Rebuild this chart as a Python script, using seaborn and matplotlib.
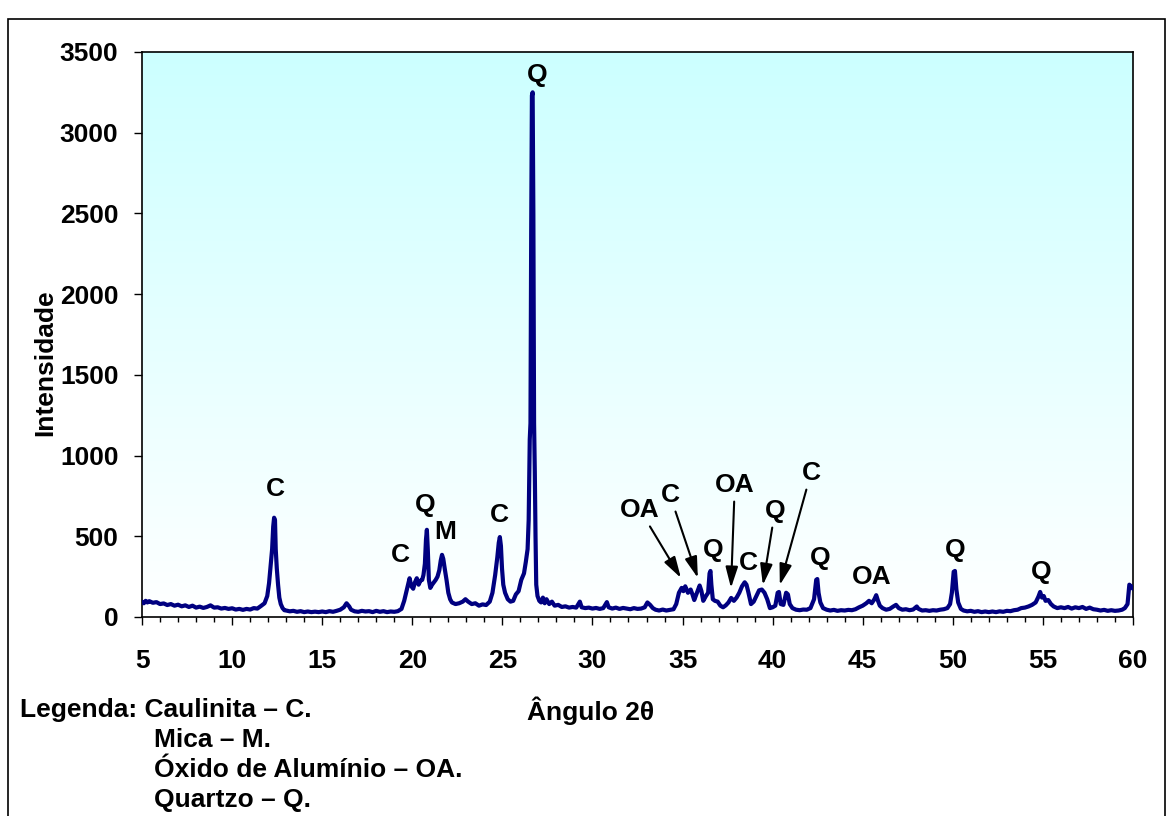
import matplotlib
matplotlib.use('Agg')
import matplotlib.pyplot as plt
import numpy as np
import seaborn as sns
from matplotlib.colors import LinearSegmentedColormap
from matplotlib.patches import Rectangle
from matplotlib.ticker import MultipleLocator

# difratograma (angulo 2theta x intensidade)
two_theta = [
    5.0, 5.1, 5.2, 5.3, 5.4, 5.6, 5.8, 6.0, 6.2, 6.4, 6.6, 6.8, 7.0, 7.2, 7.4, 7.6,
    7.8, 8.0, 8.2, 8.4, 8.6, 8.8, 9.0, 9.2, 9.4, 9.6, 9.8, 10.0, 10.2, 10.4, 10.6,
    10.8, 11.0, 11.2, 11.4, 11.6, 11.8, 11.95, 12.05, 12.15, 12.22, 12.28, 12.33,
    12.38, 12.42, 12.48, 12.55, 12.62, 12.7, 12.8, 12.9, 13.0, 13.2, 13.4, 13.6,
    13.8, 14.0, 14.2, 14.4, 14.6, 14.8, 15.0, 15.2, 15.4, 15.6, 15.8, 16.0, 16.2,
    16.35, 16.5, 16.6, 16.8, 17.0, 17.2, 17.4, 17.6, 17.8, 18.0, 18.2, 18.4, 18.6,
    18.8, 19.0, 19.2, 19.4, 19.55, 19.7, 19.85, 19.95, 20.05, 20.15, 20.25, 20.35,
    20.45, 20.55, 20.62, 20.7, 20.76, 20.81, 20.86, 20.92, 21.0, 21.1, 21.2, 21.3,
    21.4, 21.5, 21.58, 21.65, 21.72, 21.8, 21.9, 22.0, 22.1, 22.2, 22.4, 22.6, 22.8,
    22.95, 23.1, 23.3, 23.5, 23.7, 23.9, 24.1, 24.3, 24.45, 24.6, 24.72, 24.8,
    24.86, 24.92, 24.98, 25.05, 25.15, 25.3, 25.45, 25.6, 25.75, 25.9, 26.05, 26.2,
    26.3, 26.4, 26.46, 26.52, 26.56, 26.6, 26.64, 26.68, 26.72, 26.76, 26.8, 26.84,
    26.88, 26.95, 27.05, 27.15, 27.25, 27.35, 27.45, 27.6, 27.75, 27.9, 28.1, 28.3,
    28.5, 28.7, 28.9, 29.1, 29.3, 29.4, 29.6, 29.8, 30.0, 30.2, 30.4, 30.6, 30.8,
    30.9, 31.1, 31.3, 31.5, 31.7, 31.9, 32.1, 32.3, 32.5, 32.7, 32.9, 33.05, 33.2,
    33.35, 33.5, 33.7, 33.9, 34.1, 34.3, 34.5, 34.65, 34.8, 34.95, 35.05, 35.15,
    35.3, 35.45, 35.55, 35.65, 35.8, 35.95, 36.05, 36.15, 36.3, 36.42, 36.5, 36.55,
    36.6, 36.68, 36.8, 36.95, 37.1, 37.25, 37.4, 37.55, 37.7, 37.85, 38.0, 38.15,
    38.3, 38.45, 38.55, 38.65, 38.8, 38.95, 39.1, 39.25, 39.4, 39.55, 39.7, 39.85,
    40.0, 40.15, 40.28, 40.35, 40.45, 40.6, 40.75, 40.85, 40.95, 41.1, 41.3, 41.5,
    41.7, 41.9, 42.1, 42.3, 42.42, 42.48, 42.55, 42.65, 42.8, 43.0, 43.2, 43.4,
    43.6, 43.8, 44.0, 44.2, 44.4, 44.6, 44.8, 45.0, 45.2, 45.35, 45.5, 45.65, 45.75,
    45.85, 45.95, 46.1, 46.3, 46.5, 46.7, 46.85, 47.0, 47.2, 47.4, 47.6, 47.8, 48.0,
    48.1, 48.3, 48.5, 48.7, 48.9, 49.1, 49.3, 49.5, 49.7, 49.85, 49.95, 50.05,
    50.12, 50.2, 50.3, 50.45, 50.6, 50.8, 51.0, 51.2, 51.4, 51.6, 51.8, 52.0, 52.2,
    52.4, 52.6, 52.8, 53.0, 53.2, 53.4, 53.6, 53.8, 54.0, 54.2, 54.4, 54.6, 54.75,
    54.85, 54.95, 55.05, 55.15, 55.3, 55.45, 55.6, 55.8, 56.0, 56.2, 56.4, 56.6,
    56.8, 57.0, 57.2, 57.4, 57.6, 57.8, 58.0, 58.2, 58.4, 58.6, 58.8, 59.0, 59.2,
    59.4, 59.55, 59.7, 59.8, 59.9, 60.0,
]
intensity = [
    95, 85, 100, 90, 98, 88, 92, 80, 84, 74, 80, 70, 76, 66, 72, 62,
    70, 58, 64, 56, 62, 72, 58, 60, 52, 56, 50, 54, 46, 50, 44,
    50, 46, 55, 52, 68, 85, 130, 210, 330, 420, 560, 615,
    600, 420, 300, 200, 120, 80, 55, 42, 40, 35, 38, 32,
    36, 30, 34, 30, 33, 30, 34, 30, 36, 32, 38, 45, 60,
    85, 65, 45, 35, 32, 38, 34, 36, 30, 38, 32, 36, 30,
    34, 32, 36, 50, 100, 170, 240, 190, 175, 215, 240, 200,
    225, 230, 260, 330, 480, 540, 420, 230, 180, 200, 215, 230,
    250, 290, 350, 385, 360, 300, 230, 150, 110, 90, 80, 85, 95,
    110, 95, 80, 85, 70, 78, 74, 95, 150, 260, 370, 460,
    495, 440, 300, 200, 150, 110, 95, 100, 140, 160, 230, 270,
    340, 420, 600, 1100, 1200, 2400, 3230, 3250, 2500, 1200, 900, 500,
    200, 130, 100, 90, 120, 85, 110, 80, 95, 70, 75, 62,
    66, 58, 62, 58, 95, 60, 55, 58, 52, 56, 50, 55, 92,
    60, 52, 58, 50, 56, 52, 48, 55, 50, 52, 60, 90, 75,
    55, 45, 40, 46, 40, 44, 48, 80, 150, 180, 160, 190,
    150, 170, 140, 105, 150, 195, 160, 100, 130, 150, 270, 285,
    200, 110, 100, 95, 70, 60, 72, 90, 118, 100, 120, 150,
    190, 215, 200, 155, 80, 95, 130, 165, 170, 150, 110, 55,
    60, 70, 150, 155, 80, 75, 150, 140, 80, 55, 45, 42,
    46, 45, 55, 110, 230, 235, 150, 90, 55, 45, 40, 44,
    38, 42, 40, 44, 42, 48, 60, 70, 85, 100, 85, 110, 135,
    100, 70, 55, 45, 50, 65, 75, 55, 45, 48, 42, 46, 65,
    50, 40, 42, 38, 42, 40, 45, 48, 55, 80, 150, 280,
    285, 170, 90, 50, 40, 35, 38, 32, 36, 30, 34, 30, 34,
    30, 35, 32, 38, 36, 42, 45, 55, 58, 65, 75, 90, 125,
    155, 120, 130, 100, 105, 80, 65, 55, 60, 55, 62, 52,
    60, 55, 62, 50, 58, 48, 45, 40, 44, 38, 42, 38, 40,
    45, 55, 80, 200, 190, 175,
]

# rotulos dos picos sem seta (texto, angulo, intensidade)
peak_text = ['C', 'C', 'Q', 'M', 'C', 'Q', 'Q', 'C', 'Q', 'OA', 'Q', 'Q']
peak_x = [12.38, 19.32, 20.70, 21.85, 24.81, 26.92, 36.69, 38.63, 42.63, 45.51, 50.12, 54.89]
peak_y = [793, 384, 694, 529, 632, 3358, 415, 335, 366, 248, 415, 279]

# rotulos com seta: posicao do texto e ponta da seta
arrow_text = ['OA', 'C', 'OA', 'Q', 'C']
arrow_text_x = [32.64, 34.30, 37.90, 40.13, 42.13]
arrow_text_y = [663, 756, 818, 657, 892]
arrow_tip_x = [34.91, 35.85, 37.69, 39.46, 40.40]
arrow_tip_y = [242, 242, 180, 198, 198]

legend_lines = ['Legenda: Caulinita \u2013 C.', 'Mica \u2013 M.',
                '\u00d3xido de Alum\u00ednio \u2013 OA.', 'Quartzo \u2013 Q.']

sns.set_style('ticks')
plt.rcParams['font.family'] = ['Liberation Sans', 'DejaVu Sans']
plt.rcParams['font.weight'] = 'bold'
plt.rcParams['text.color'] = 'black'
plt.rcParams['axes.labelcolor'] = 'black'
plt.rcParams['xtick.color'] = 'black'
plt.rcParams['ytick.color'] = 'black'

fig = plt.figure(figsize=(11.71, 8.16), dpi=100)
ax = fig.add_axes([0.1213, 0.2439, 0.8462, 0.6924])

# fundo em degrade (branco embaixo, ciano claro em cima)
cmap = LinearSegmentedColormap.from_list('fundo', ['#FFFFFF', '#CCFFFF'])
grad = np.linspace(0, 1, 256).reshape(-1, 1)
ax.imshow(grad, extent=(5, 60, 0, 3500), origin='lower', aspect='auto',
          cmap=cmap, zorder=0)

sns.lineplot(x=two_theta, y=intensity, ax=ax, color='#000080', lw=3,
             estimator=None, zorder=3)

ax.set_xlim(5, 60)
ax.set_ylim(0, 3500)
ax.xaxis.set_major_locator(MultipleLocator(5))
ax.xaxis.set_minor_locator(MultipleLocator(1))
ax.yaxis.set_major_locator(MultipleLocator(500))
ax.tick_params(axis='both', which='major', direction='out', length=6, width=1,
               labelsize=19)
ax.tick_params(axis='x', which='major', pad=17)
ax.tick_params(axis='y', which='major', pad=11)
ax.tick_params(axis='x', which='minor', direction='out', length=3.5, width=1)
for s in ax.spines.values():
    s.set_color('black')
    s.set_linewidth(1.2)

ax.set_xlabel('\u00c2ngulo 2\u03b8', fontsize=19, fontweight='bold')
ax.xaxis.set_label_coords(0.453, -0.14)
ax.set_ylabel('Intensidade', fontsize=19, fontweight='bold')
ax.yaxis.set_label_coords(-0.086, 0.45)

for t, x, y in zip(peak_text, peak_x, peak_y):
    ax.text(x, y, t, ha='center', va='center', fontsize=19, fontweight='bold',
            zorder=4)

for t, x, y, tx, ty in zip(arrow_text, arrow_text_x, arrow_text_y,
                           arrow_tip_x, arrow_tip_y):
    ax.annotate(t, xy=(tx, ty), xytext=(x, y), ha='center', va='center',
                fontsize=19, fontweight='bold', zorder=4,
                arrowprops=dict(arrowstyle='-|>,head_length=0.85,head_width=0.25',
                                mutation_scale=15, color='black', lw=1.5,
                                shrinkA=1, shrinkB=0))

# legenda escrita abaixo do grafico
fig.text(0.017, 0.130, legend_lines[0], fontsize=19, fontweight='bold', va='center')
for i, line in enumerate(legend_lines[1:]):
    fig.text(0.1315, 0.093 - i * 0.0367, line, fontsize=19, fontweight='bold',
             va='center')

# moldura externa
fig.add_artist(Rectangle((0.0068, -0.01), 0.9881, 0.9867,
                         transform=fig.transFigure, fill=False,
                         edgecolor='black', lw=1.2))

plt.savefig('out.png', dpi=100)
